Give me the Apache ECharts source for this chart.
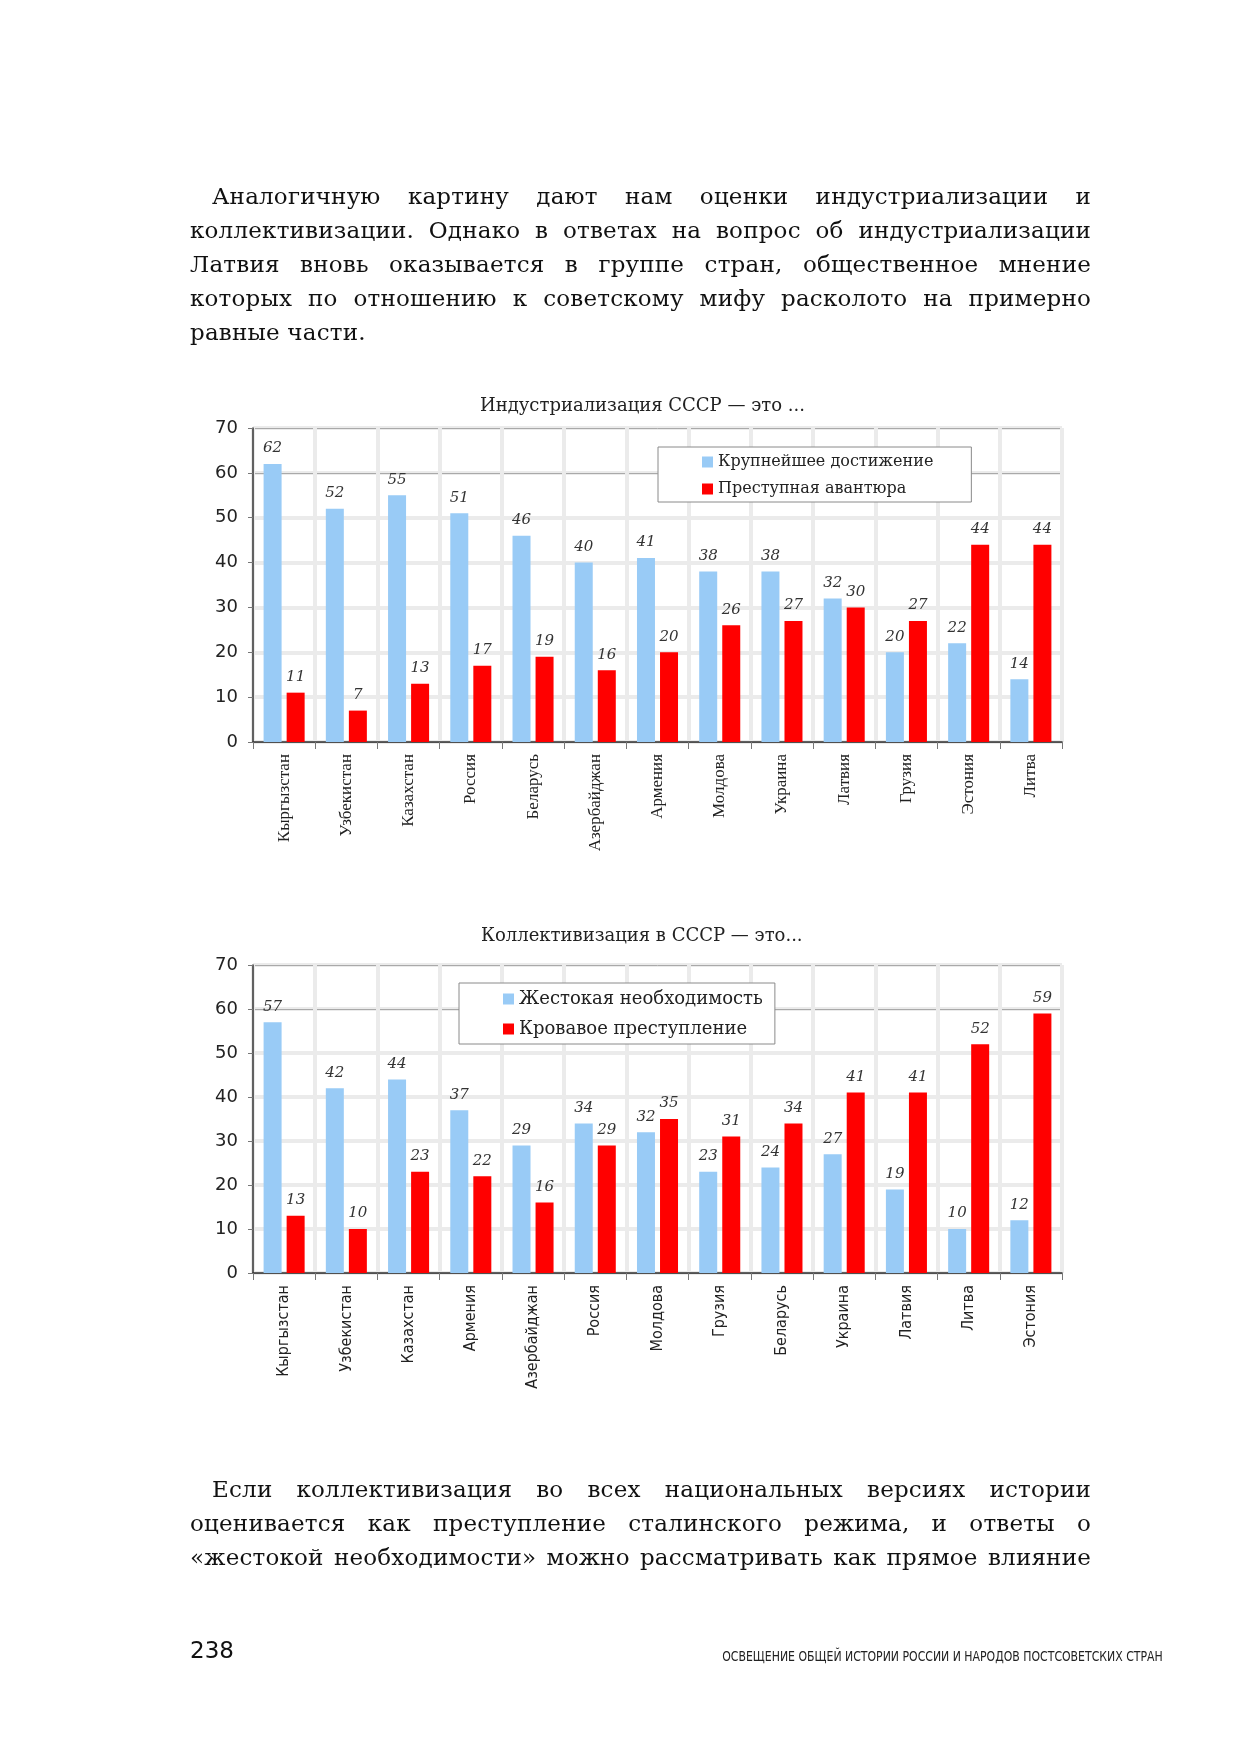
<!DOCTYPE html>
<html><head><meta charset="utf-8">
<script src="https://cdn.jsdelivr.net/npm/echarts@6.0.0/dist/echarts.min.js"></script>
<style>
html,body{margin:0;padding:0;background:#fff;}
#page{position:relative;width:1239px;height:1754px;overflow:hidden;background:#fff;}
#chart{position:absolute;left:0;top:0;width:1239px;height:1754px;}
.para{position:absolute;left:190px;width:901px;font-family:"DejaVu Serif",serif;font-size:23px;line-height:34px;color:#111;letter-spacing:0.2px;z-index:2;}
.para div{text-align:justify;text-align-last:justify;}
.para div.last{text-align-last:left;}
.para div.ind{padding-left:22px;}
#pnum{position:absolute;left:190px;top:1637px;font-family:"DejaVu Sans",sans-serif;font-size:23px;color:#111;z-index:2;}
#foot{position:absolute;right:76px;top:1648px;font-family:"DejaVu Sans",sans-serif;font-size:14px;color:#222;z-index:2;white-space:nowrap;transform:scaleX(0.78);transform-origin:right center;}
</style></head>
<body><div id="page">
<div id="chart"></div>
<div class="para" style="top:179px;">
<div class="ind">Аналогичную картину дают нам оценки индустриализации и</div>
<div>коллективизации. Однако в ответах на вопрос об индустриализации</div>
<div>Латвия вновь оказывается в группе стран, общественное мнение</div>
<div>которых по отношению к советскому мифу расколото на примерно</div>
<div class="last">равные части.</div>
</div>
<div class="para" style="top:1472px;">
<div class="ind">Если коллективизация во всех национальных версиях истории</div>
<div>оценивается как преступление сталинского режима, и ответы о</div>
<div>«жестокой необходимости» можно рассматривать как прямое влияние</div>
</div>
<div id="pnum">238</div>
<div id="foot">ОСВЕЩЕНИЕ ОБЩЕЙ ИСТОРИИ РОССИИ И НАРОДОВ ПОСТСОВЕТСКИХ СТРАН</div>
</div>
<script>
// ---- data ----
const title1 = 'Индустриализация СССР — это ...';
const title2 = 'Коллективизация в СССР — это...';
const categories1 = ['Кыргызстан','Узбекистан','Казахстан','Россия','Беларусь','Азербайджан','Армения','Молдова','Украина','Латвия','Грузия','Эстония','Литва'];
const achievement = [62,52,55,51,46,40,41,38,38,32,20,22,14];
const adventure   = [11,7,13,17,19,16,20,26,27,30,27,44,44];
const categories2 = ['Кыргызстан','Узбекистан','Казахстан','Армения','Азербайджан','Россия','Молдова','Грузия','Беларусь','Украина','Латвия','Литва','Эстония'];
const necessity   = [57,42,44,37,29,34,32,23,24,27,19,10,12];
const crime       = [13,10,23,22,16,29,35,31,34,41,41,52,59];
const seriesNames1 = ['Крупнейшее достижение','Преступная авантюра'];
const seriesNames2 = ['Жестокая необходимость','Кровавое преступление'];
const yMin = 0, yMax = 70, yStep = 10;

const BLUE = '#99cbf6', RED = '#ff0000';
const serif = 'DejaVu Serif';

function xAxisFor(g, cats, font, size){
  return {type:'category', gridIndex:g, data:cats,
    axisLine:{lineStyle:{color:'#333', width:1.5}},
    axisTick:{show:true, interval:0, length:7, lineStyle:{color:'#777'}},
    axisLabel:{interval:0, rotate:90, margin:12, fontFamily:font, fontSize:size, color:'#222'},
    splitLine:{show:true, interval:0, lineStyle:{color:'#ebebeb', width:4}}};
}
function yAxisFor(g){
  return {type:'value', gridIndex:g, min:yMin, max:yMax, interval:yStep,
    axisLine:{show:true, lineStyle:{color:'#333', width:1.5}},
    axisTick:{show:true, length:5, lineStyle:{color:'#777'}},
    axisLabel:{fontFamily:'DejaVu Sans', fontSize:18, color:'#222', margin:15},
    splitLine:{show:true, lineStyle:{color:'#ebebeb', width:4}}};
}
function accentAxis(g){
  return {type:'value', gridIndex:g, min:yMin, max:yMax, interval:60,
    axisLine:{show:false}, axisTick:{show:false}, axisLabel:{show:false},
    splitLine:{show:true, lineStyle:{color:'#a9a9a9', width:1}}};
}
function barSeries(name, data, color, xi, yi){
  return {type:'bar', name:name, data:data, xAxisIndex:xi, yAxisIndex:yi,
    barWidth:18, barGap:'28%',
    itemStyle:{color:color},
    label:{show:true, position:'top', distance:8, fontFamily:serif, fontStyle:'italic', fontSize:15, color:'#333'}};
}
function legendFor(names, left, top, pad, gap, fs){
  return {data:names, orient:'vertical', left:left, top:top, padding:pad, itemGap:gap,
    icon:'rect', itemWidth:11, itemHeight:11,
    borderColor:'#8a8a8a', borderWidth:1, backgroundColor:'#fff',
    textStyle:{fontFamily:serif, fontSize:fs, color:'#222'}};
}

const chart = echarts.init(document.getElementById('chart'), null, {renderer:'canvas'});
chart.setOption({
  animation:false,
  title:[
    {text:title1, left:480, top:397, padding:0, textStyle:{fontFamily:serif, fontSize:18, fontWeight:'normal', color:'#222'}},
    {text:title2, left:481, top:927, padding:0, textStyle:{fontFamily:serif, fontSize:18, fontWeight:'normal', color:'#222'}}
  ],
  legend:[
    legendFor(seriesNames1, 658, 447, [7,38,5,44], 11, 16),
    legendFor(seriesNames2, 459, 983, [7,12,6,44], 12, 18)
  ],
  grid:[
    {left:253, top:428, width:809, height:314, show:true, borderColor:'#9a9a9a', borderWidth:1},
    {left:253, top:965, width:809, height:308, show:true, borderColor:'#9a9a9a', borderWidth:1}
  ],
  xAxis:[xAxisFor(0, categories1, 'Liberation Serif', 17), xAxisFor(1, categories2, 'DejaVu Sans Condensed', 16)],
  yAxis:[yAxisFor(0), yAxisFor(1), accentAxis(0), accentAxis(1)],
  series:[
    barSeries(seriesNames1[0], achievement, BLUE, 0, 0),
    barSeries(seriesNames1[1], adventure, RED, 0, 0),
    barSeries(seriesNames2[0], necessity, BLUE, 1, 1),
    barSeries(seriesNames2[1], crime, RED, 1, 1)
  ]
});
</script>
</body></html>
